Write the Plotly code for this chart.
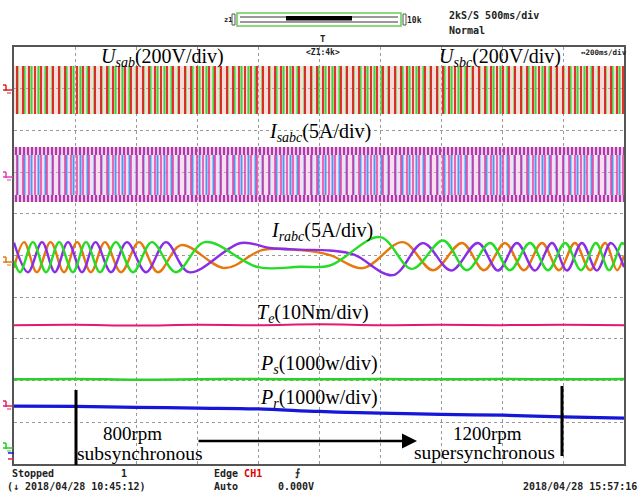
import plotly.graph_objects as go

# ---------------- data ----------------
# time axis: 10 div x 200 ms = 2 s ; values in channel units
t_grid = [0.0, 0.2, 0.4, 0.6, 0.8, 1.0, 1.2, 1.4, 1.6, 1.8, 2.0]

# stator voltage band envelope (V), 200 V/div
usab_t = [0.0, 2.0]
usab_top = [115, 115]
usab_bot = [-115, -115]

# stator current band envelope (A), 5 A/div
isabc_t = [0.0, 2.0]
isabc_peak_top = [3.4, 3.4]
isabc_core_top = [2.4, 2.4]
isabc_core_bot = [-2.4, -2.4]
isabc_peak_bot = [-3.2, -3.2]

# rotor currents (A), 5 A/div : extrema
ira_t = [0.000, 0.033, 0.075, 0.120, 0.164, 0.207, 0.252, 0.298, 0.351, 0.410, 0.472, 0.548,
         0.692, 0.813, 0.938, 1.036, 1.144, 1.275, 1.374, 1.469, 1.541, 1.610,
         1.672, 1.731, 1.787, 1.839, 1.889, 1.938, 1.977, 2.000]
ira_v = [-1.3, 1.8, -1.8, 1.8, -1.8, 1.8, -1.8, 1.8, -1.8, 1.8, -1.8, 1.44,
         -1.3, 0.84, 0.84, 0.24, -1.32, 1.8, -1.56, 1.7, -1.56, 1.7,
         -1.56, 1.7, -1.56, 1.7, -1.56, 1.7, -1.56, 0.2]

irb_t = [0.000, 0.046, 0.092, 0.134, 0.177, 0.223, 0.267, 0.318, 0.370, 0.433, 0.498, 0.574,
         0.744, 0.839, 0.938, 1.036, 1.115, 1.243, 1.341, 1.433, 1.521, 1.587,
         1.649, 1.708, 1.764, 1.813, 1.862, 1.911, 1.957, 2.000]
irb_v = [1.75, -1.8, 1.8, -1.8, 1.8, -1.8, 1.8, -1.8, 1.8, -1.8, 1.8, -1.8,
         1.7, 1.1, 0.9, 0.8, 0.3, -2.16, 1.68, -1.6, 1.7, -1.6,
         1.7, -1.6, 1.7, -1.6, 1.7, -1.6, 1.7, -1.2]

irc_t = [0.000, 0.020, 0.062, 0.105, 0.148, 0.193, 0.236, 0.282, 0.334, 0.390, 0.452, 0.531,
         0.626, 0.800, 0.938, 1.036, 1.200, 1.305, 1.407, 1.485, 1.561, 1.626,
         1.692, 1.751, 1.807, 1.859, 1.908, 1.951, 1.993, 2.000]
irc_v = [-0.43, -1.8, 1.8, -1.8, 1.8, -1.8, 1.8, -1.8, 1.8, -1.8, 1.8, -1.8,
         1.8, -1.2, -1.15, -1.0, 2.4, -1.4, 2.0, -1.56, 1.7, -1.56,
         1.7, -1.56, 1.7, -1.56, 1.7, -1.56, 1.7, 1.5]

te_v = [19.4, 19.5, 19.3, 19.5, 19.4, 19.6, 19.4, 19.5, 19.4, 19.5, 19.4]          # Nm, 10 Nm/div
ps_v = [1650, 1660, 1640, 1650, 1660, 1650, 1660, 1650, 1660, 1650, 1660]         # W, 1000 W/div
pr_v = [1130, 1120, 1100, 1080, 1060, 1000, 960, 930, 910, 870, 840]              # W, 1000 W/div

# channel ground positions (div above bottom) and scales (units/div)
CH = {
    "usab": (8.97, 200.0),
    "isabc": (6.93, 5.0),
    "irabc": (4.96, 5.0),
    "te": (1.39, 10.0),
    "ps": (0.38, 1000.0),
    "pr": (0.26, 1000.0),
}

W, H = 642, 494
X0, X1, Y0, Y1 = 14, 624, 47, 464


def scr(ch, vals):
    off, sc = CH[ch]
    return [off + v / sc for v in vals]


def px(x):
    return x / W


def py(y):
    return 1 - y / H


fig = go.Figure()


def band_bar(t, top, bot, ch, color, pattern=None):
    off, sc = CH[ch]
    b = off + bot[0] / sc
    h = (top[0] - bot[0]) / sc
    marker = dict(color=color, line=dict(width=0))
    if pattern:
        marker["pattern"] = pattern
    fig.add_trace(go.Bar(x=[(t[0] + t[-1]) / 2], width=[t[-1] - t[0]], base=[b], y=[h],
                         marker=marker, showlegend=False, hoverinfo="skip"))


CLEAR = "rgba(0,0,0,0)"

# Usab band
band_bar(usab_t, usab_top, usab_bot, "usab", "rgba(244,150,150,0.35)")
band_bar(usab_t, usab_top, usab_bot, "usab", CLEAR,
         dict(shape="|", fgcolor="#3bd83b", bgcolor=CLEAR, size=7, solidity=0.3, fillmode="replace"))
band_bar(usab_t, usab_top, usab_bot, "usab", CLEAR,
         dict(shape="|", fgcolor="#e01c1c", bgcolor=CLEAR, size=6, solidity=0.3, fillmode="replace"))

# Isabc band
band_bar(isabc_t, isabc_core_top, isabc_core_bot, "isabc", "rgba(245,170,220,0.40)")
band_bar(isabc_t, isabc_core_top, isabc_core_bot, "isabc", CLEAR,
         dict(shape="|", fgcolor="#4a9cf0", bgcolor=CLEAR, size=7, solidity=0.28, fillmode="replace"))
band_bar(isabc_t, isabc_core_top, isabc_core_bot, "isabc", CLEAR,
         dict(shape="|", fgcolor="#e0188c", bgcolor=CLEAR, size=6, solidity=0.2, fillmode="replace"))
band_bar(isabc_t, isabc_peak_top, isabc_core_top, "isabc", CLEAR,
         dict(shape="|", fgcolor="#d8168a", bgcolor="rgba(110,150,240,0.40)", size=4, solidity=0.45, fillmode="replace"))
band_bar(isabc_t, isabc_core_bot, isabc_peak_bot, "isabc", CLEAR,
         dict(shape="|", fgcolor="#d8168a", bgcolor="rgba(110,150,240,0.40)", size=4, solidity=0.45, fillmode="replace"))

# rotor currents
for tt, vv, col in [(ira_t, ira_v, "#e6780e"), (irb_t, irb_v, "#8a2ee6"), (irc_t, irc_v, "#26dc26")]:
    fig.add_trace(go.Scatter(x=tt, y=scr("irabc", vv), mode="lines",
                             line=dict(color=col, width=2.4, shape="spline", smoothing=1.0),
                             showlegend=False, hoverinfo="skip"))

fig.add_trace(go.Scatter(x=t_grid, y=scr("te", te_v), mode="lines",
                         line=dict(color="#e3186e", width=2, shape="spline"), showlegend=False))
fig.add_trace(go.Scatter(x=t_grid, y=scr("ps", ps_v), mode="lines",
                         line=dict(color="#2bd02b", width=2.5, shape="spline"), showlegend=False))
fig.add_trace(go.Scatter(x=t_grid, y=scr("pr", pr_v), mode="lines",
                         line=dict(color="#1616d8", width=3.2, shape="spline"), showlegend=False))

SERIF = "Liberation Serif"
MONO = "DejaVu Sans Mono"
ann = []


def label(x, y, text, size=20, family=SERIF, color="black", xanchor="center"):
    ann.append(dict(x=px(x), y=py(y), xref="paper", yref="paper", text=text, showarrow=False,
                    font=dict(family=family, size=size, color=color), xanchor=xanchor, yanchor="middle"))


label(163, 57, "<i>U<sub>sab</sub></i>(200V/div)")
label(500, 57, "<i>U<sub>sbc</sub></i>(200V/div)")
label(320, 132, "<i>I<sub>sabc</sub></i>(5A/div)")
label(322, 231, "<i>I<sub>rabc</sub></i>(5A/div)")
label(313, 313, "<i>T<sub>e</sub></i>(10Nm/div)")
label(319, 364, "<i>P<sub>s</sub></i>(1000w/div)")
label(319, 398, "<i>P<sub>r</sub></i>(1000w/div)")
label(132, 433, "800rpm", 19)
label(140, 453, "subsynchronous", 19.5)
label(487, 433, "1200rpm", 19)
label(484, 452, "supersynchronous", 19.5)

# scope UI text
label(447, 15, "<b>2kS/S 500ms/div</b>", 10, MONO, "#222", "left")
label(447, 30, "<b>Normal</b>", 10, MONO, "#222", "left")
label(228, 20, "<b>z1</b>", 7, MONO, "#222")
label(414, 20, "<b>10k</b>", 8, MONO, "#222")
label(323, 39, "<b>T</b>", 9, MONO, "#222")
label(323, 53, "<b>&lt;Z1:4k&gt;</b>", 8, MONO, "#222")
label(604, 53, "<b>↔200ms/div</b>", 7.5, MONO, "#222")
label(10, 473, "<b>Stopped</b>", 10, MONO, "#222", "left")
label(124, 473, "<b>1</b>", 10, MONO, "#222")
label(212, 473, "<b>Edge <span style='color:#e00000'>CH1</span></b>", 10, MONO, "#222", "left")
label(297, 473, "<b>⨍</b>", 10, MONO, "#222")
label(5, 486, "<b>(↓ 2018/04/28 10:45:12)</b>", 10, MONO, "#222", "left")
label(212, 486, "<b>Auto</b>", 10, MONO, "#222", "left")
label(276, 486, "<b>0.000V</b>", 10, MONO, "#222", "left")
label(639, 486, "<b>2018/04/28 15:57:16</b>", 10, MONO, "#222", "right")

# arrow (tail offset given in pixels)
ann.append(dict(x=px(417), y=py(441), xref="paper", yref="paper",
                ax=197 - 417, ay=0, axref="pixel", ayref="pixel", text="", showarrow=True,
                arrowhead=2, arrowsize=1.2, arrowwidth=2.5, arrowcolor="black"))

shapes = []


def pline(x0, y0, x1, y1, color, width=1):
    shapes.append(dict(type="line", xref="paper", yref="paper", x0=px(x0), y0=py(y0),
                       x1=px(x1), y1=py(y1), line=dict(color=color, width=width)))


def prect(x0, y0, x1, y1, line=None, fill=None, width=1):
    shapes.append(dict(type="rect", xref="paper", yref="paper", x0=px(x0), y0=py(y0),
                       x1=px(x1), y1=py(y1), line=dict(color=line or CLEAR, width=width),
                       fillcolor=fill or CLEAR))


# speed marker lines
pline(76, 390, 76, 465, "black", 3)
pline(562, 386, 562, 456, "black", 3)

# zoom bar
prect(237, 13, 401, 26, line="#66cc55", width=1.5)
prect(240, 16, 398, 18, fill="#9a9a9a")
prect(240, 21, 398, 23, fill="#9a9a9a")
prect(286, 16, 352, 20.5, fill="#000000")
prect(232, 14, 235, 25, line="#555", width=1)
prect(403, 14, 406, 25, line="#555", width=1)


# channel ground markers
def gnd(y, color):
    pline(3, y, 13, y, color, 1.5)
    pline(6, y - 5, 6, y + 1, color, 1.5)
    pline(3, y - 5, 6, y - 5, color, 1.5)
    pline(7, y + 3, 11, y + 3, color, 1)


gnd(90, "#e02020")
gnd(177, "#e040b0")
gnd(262, "#e07a10")
gnd(406, "#e0206a")
gnd(448, "#22cc22")
pline(8, 453, 14, 453, "#1616d8", 1.5)
pline(8, 459, 14, 459, "#e0206a", 1.5)

fig.update_layout(
    width=W, height=H, margin=dict(l=0, r=0, t=0, b=0),
    paper_bgcolor="white", plot_bgcolor="white",
    barmode="overlay", bargap=0, showlegend=False,
    annotations=ann, shapes=shapes,
    xaxis=dict(domain=[X0 / W, X1 / W], range=[0, 2], dtick=0.2, showticklabels=False, ticks="",
               showgrid=True, gridcolor="#9a9a9a", griddash="dot", gridwidth=1, zeroline=False,
               showline=True, linecolor="#555", linewidth=1.5, mirror=True, fixedrange=True),
    yaxis=dict(domain=[1 - Y1 / H, 1 - Y0 / H], range=[0, 10], dtick=1, showticklabels=False, ticks="",
               showgrid=True, gridcolor="#9a9a9a", griddash="dot", gridwidth=1, zeroline=False,
               showline=True, linecolor="#555", linewidth=1.5, mirror=True, fixedrange=True),
)

fig.write_html("out.html")
